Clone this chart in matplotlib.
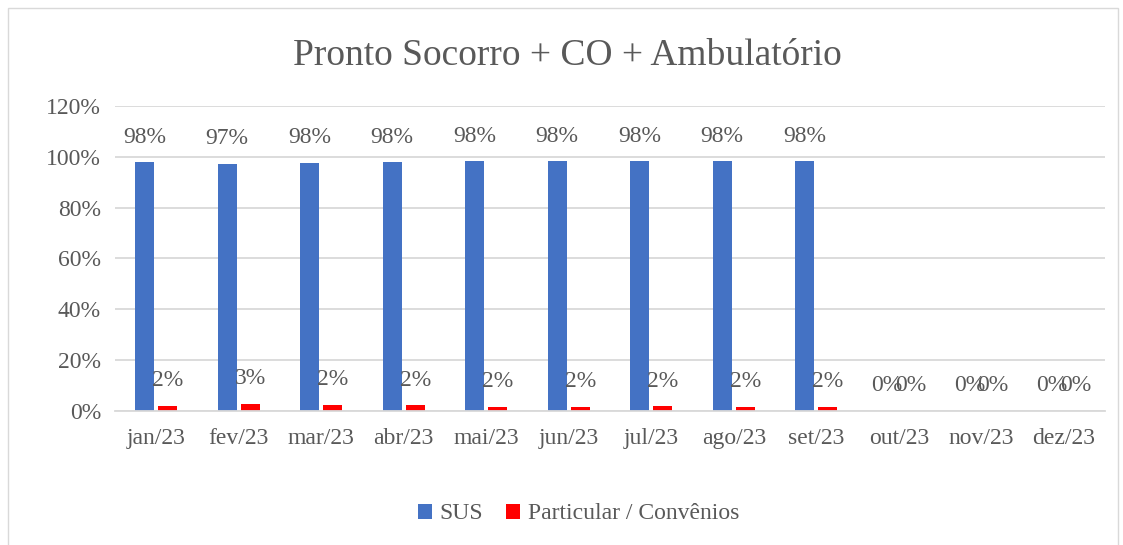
import matplotlib
matplotlib.use("Agg")
import matplotlib.pyplot as plt
import numpy as np
from matplotlib.patches import Rectangle

meses = ["jan/23", "fev/23", "mar/23", "abr/23", "mai/23", "jun/23",
         "jul/23", "ago/23", "set/23", "out/23", "nov/23", "dez/23"]
sus = [97.9, 97.2, 97.6, 97.8, 98.3, 98.3, 98.2, 98.3, 98.3, 0, 0, 0]
particular = [2.1, 2.8, 2.4, 2.2, 1.7, 1.7, 1.8, 1.7, 1.7, 0, 0, 0]
sus_lbl = ["98%", "97%", "98%", "98%", "98%", "98%", "98%", "98%", "98%", "0%", "0%", "0%"]
part_lbl = ["2%", "3%", "2%", "2%", "2%", "2%", "2%", "2%", "2%", "0%", "0%", "0%"]

plt.rcParams["font.family"] = ["Liberation Serif", "DejaVu Serif"]
TXT = "#595959"
AZUL = "#4472C4"
VERM = "#FF0000"

fig = plt.figure(figsize=(11.23, 5.45), dpi=100)
fig.patches.append(Rectangle((8 / 1123, -0.01), 1110 / 1123, 1 - 8 / 545 + 0.01,
                             transform=fig.transFigure, fill=False,
                             edgecolor="#D9D9D9", lw=1))
ax = fig.add_axes([0.1024, 0.2459, 0.8816, 0.5596])

x = np.arange(len(meses))
w = 0.23
off = 0.14
b1 = ax.bar(x - off, sus, w, color=AZUL, label="SUS")
b2 = ax.bar(x + off, particular, w, color=VERM, label="Particular / Convênios")

# rótulos de dados acima de cada barra (os 0% se sobrepõem, como no original)
for xi, v, t in zip(x - off, sus, sus_lbl):
    ax.annotate(t, (xi, v), xytext=(0, 18), textcoords="offset points",
                ha="center", va="center", fontsize=17, color=TXT)
for xi, v, t in zip(x + off, particular, part_lbl):
    ax.annotate(t, (xi, v), xytext=(0, 18), textcoords="offset points",
                ha="center", va="center", fontsize=17, color=TXT)

ax.set_xlim(-0.5, len(meses) - 0.5)
ax.set_ylim(0, 120)
ax.set_yticks(range(0, 121, 20))
ax.set_yticklabels([f"{v}%" for v in range(0, 121, 20)])
ax.set_xticks(x)
ax.set_xticklabels(meses)
ax.tick_params(axis="both", length=0, labelsize=17, labelcolor=TXT)
ax.tick_params(axis="x", pad=12)
ax.tick_params(axis="y", pad=10)
ax.grid(axis="y", color="#D9D9D9", lw=1.3)
ax.set_axisbelow(True)
for s in ("top", "right", "left"):
    ax.spines[s].set_visible(False)
ax.spines["bottom"].set_color("#D9D9D9")
ax.spines["bottom"].set_linewidth(1.3)

fig.text(0.505, 0.897, "Pronto Socorro + CO + Ambulatório", ha="center", va="center",
         fontsize=27, color=TXT)
fig.legend(handles=[b1, b2], loc="center", bbox_to_anchor=(0.515, 0.057), ncol=2,
           frameon=False, fontsize=17, labelcolor=TXT, handlelength=0.6,
           handleheight=0.6, handletextpad=0.3, columnspacing=1.0)

fig.savefig("out.png", dpi=100)
